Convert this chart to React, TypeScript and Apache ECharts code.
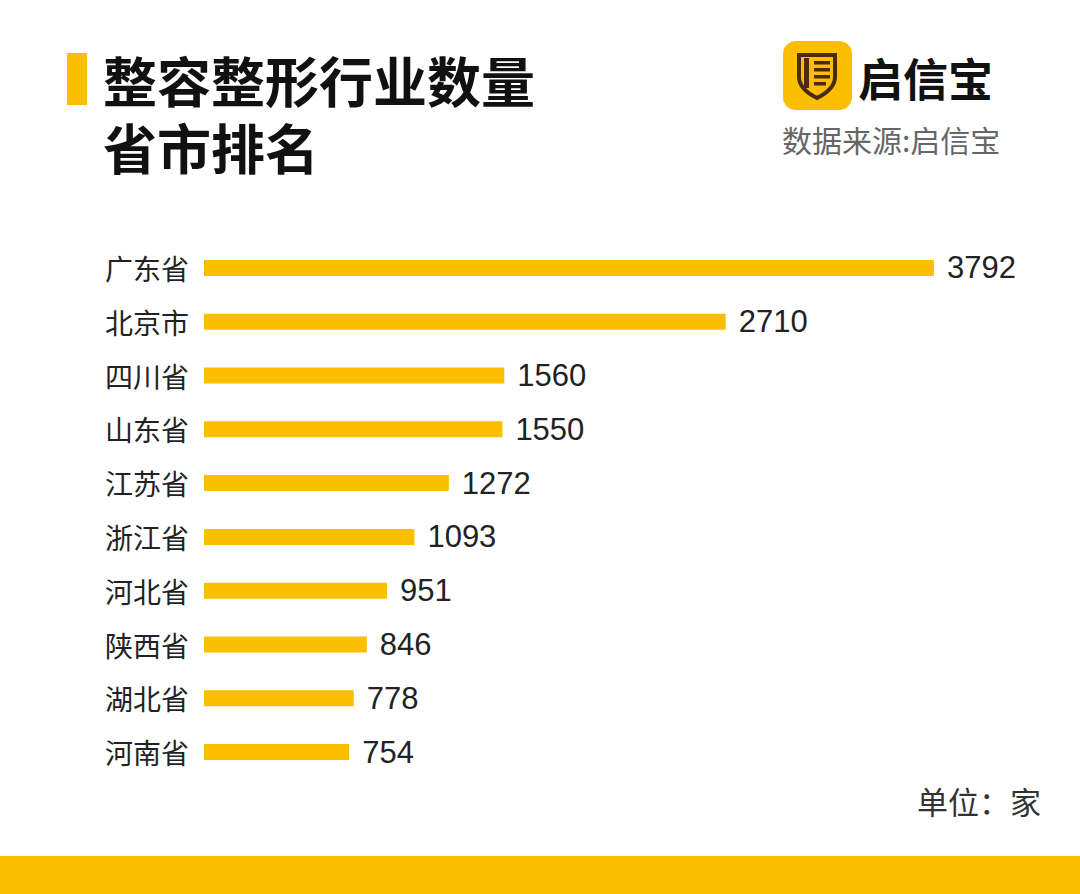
import React, { useEffect, useRef } from "react";
import * as echarts from "echarts";

const provinces = ["广东省", "北京市", "四川省", "山东省", "江苏省", "浙江省", "河北省", "陕西省", "湖北省", "河南省"];
const counts = [3792, 2710, 1560, 1550, 1272, 1093, 951, 846, 778, 754];
const titleLines = ["整容整形行业数量", "省市排名"];
const brandName = "启信宝";
const sourceText = "数据来源:启信宝";
const unitText = "单位：家";

const YELLOW = "#FCBE00";
const CJK = "'Noto Sans CJK SC', 'Noto Sans', sans-serif";

echarts.graphic.registerShape(
  "shieldLogo",
  echarts.graphic.extendPath("M2 2 H38 V24 C38 34 28 41 20 45 C12 41 2 34 2 24 Z", {})
);

export default function App() {
  const ref = useRef<HTMLDivElement>(null);
  useEffect(() => {
    if (!ref.current) return;
    const chart = echarts.init(ref.current, null, { renderer: "svg" });
    chart.setOption({
      animation: false,
      backgroundColor: "#ffffff",
      grid: { left: 204, top: 241, width: 770, height: 538, containLabel: false },
      xAxis: {
        type: "value",
        min: 0,
        max: 4000,
        show: false,
      },
      yAxis: {
        type: "category",
        data: provinces,
        inverse: true,
        axisLine: { show: false },
        axisTick: { show: false },
        splitLine: { show: false },
        axisLabel: {
          margin: 15,
          fontSize: 28,
          color: "#222",
          fontFamily: CJK,
        },
      },
      series: [
        {
          type: "bar",
          data: counts,
          barWidth: 16,
          itemStyle: { color: YELLOW },
          label: {
            show: true,
            position: "right",
            distance: 13,
            fontSize: 31,
            color: "#222",
            fontFamily: "'Liberation Sans', 'Noto Sans', sans-serif",
          },
        },
      ],
      graphic: [
        { type: "rect", shape: { x: 67, y: 53, width: 20, height: 52 }, style: { fill: YELLOW } },
        {
          type: "text",
          x: 103,
          y: 79,
          style: { text: titleLines[0], fontSize: 54, fontWeight: "bold", fill: "#111", fontFamily: CJK, textVerticalAlign: "middle", textBaseline: "middle" },
        },
        {
          type: "text",
          x: 103,
          y: 146,
          style: { text: titleLines[1], fontSize: 54, fontWeight: "bold", fill: "#111", fontFamily: CJK, textVerticalAlign: "middle", textBaseline: "middle" },
        },
        // logo box
        { type: "rect", shape: { x: 783, y: 41, width: 69, height: 69, r: 13 }, style: { fill: YELLOW } },
        {
          type: "shieldLogo",
          x: 797,
          y: 53,
          scaleX: 1,
          scaleY: 1,
          style: { fill: "none", stroke: "#4a2a10", lineWidth: 4 },
        },
        { type: "rect", shape: { x: 804, y: 58, width: 5, height: 30 }, style: { fill: "#4a2a10" } },
        { type: "rect", shape: { x: 814, y: 61, width: 16, height: 3.5 }, style: { fill: "#4a2a10" } },
        { type: "rect", shape: { x: 814, y: 68, width: 16, height: 3.5 }, style: { fill: "#4a2a10" } },
        { type: "rect", shape: { x: 814, y: 75, width: 16, height: 3.5 }, style: { fill: "#4a2a10" } },
        { type: "rect", shape: { x: 814, y: 82, width: 12, height: 3.5 }, style: { fill: "#4a2a10" } },
        {
          type: "text",
          x: 858,
          y: 77,
          style: { text: brandName, fontSize: 45, fontWeight: "bold", fill: "#111", fontFamily: CJK, textVerticalAlign: "middle", textBaseline: "middle" },
        },
        {
          type: "text",
          x: 782,
          y: 139,
          style: { text: sourceText, fontSize: 30, fill: "#666", fontFamily: CJK, textVerticalAlign: "middle", textBaseline: "middle" },
        },
        {
          type: "text",
          x: 1041,
          y: 800,
          style: { text: unitText, fontSize: 31, fill: "#333", fontFamily: CJK, textAlign: "right", textVerticalAlign: "middle", textBaseline: "middle" },
        },
        { type: "rect", shape: { x: 0, y: 856, width: 1080, height: 38 }, style: { fill: YELLOW } },
      ],
    });
    return () => chart.dispose();
  }, []);
  return <div ref={ref} style={{ position: "fixed", left: 0, top: 0, width: 1080, height: 894 }} />;
}
